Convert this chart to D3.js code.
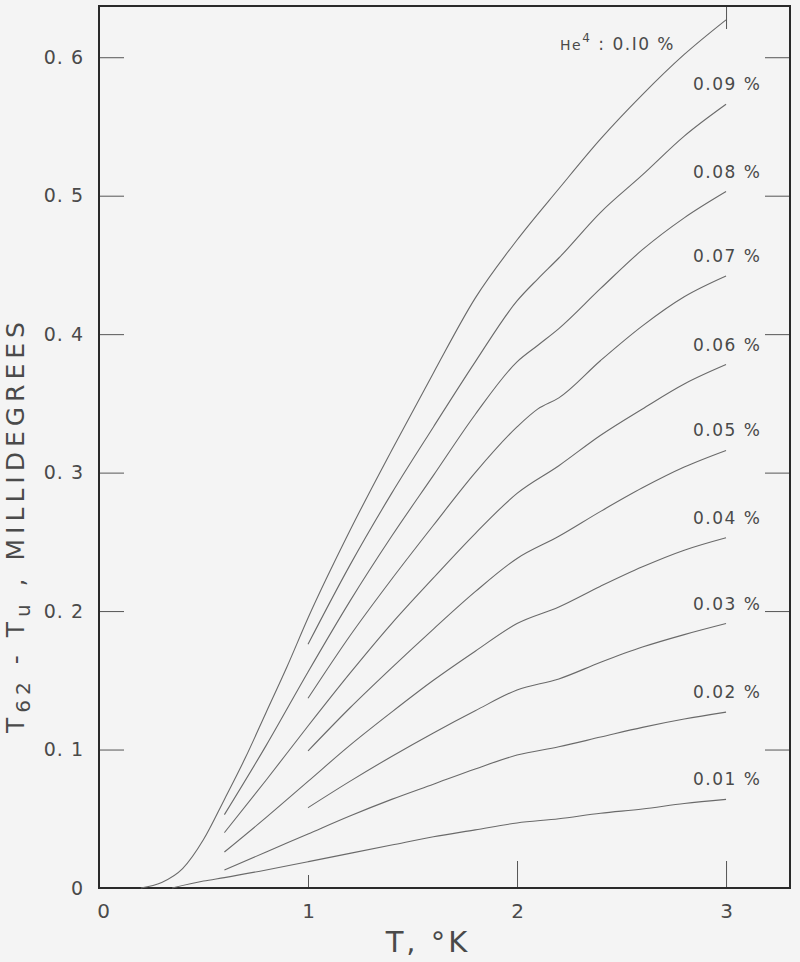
<!DOCTYPE html>
<html lang="en">
<head>
	<title>T62 - Tu vs T</title>
	<script src="https://d3js.org/d3.v7.min.js" charset="utf-8"></script>
	<style>
		body { margin: 0; background: #f4f4f4; }
		text { font-family: "DejaVu Sans", sans-serif; fill: #4a4a4a; }
	</style>
</head>
<body>

	<script>

	// He4 concentration curves (T in K, value in millidegrees)
	var labels = ["0.10 %", "0.09 %", "0.08 %", "0.07 %", "0.06 %", "0.05 %", "0.04 %", "0.03 %", "0.02 %", "0.01 %"]

	var c10T = [0.2, 0.3, 0.4, 0.5, 0.6, 0.7, 0.8, 0.9, 1.0, 1.2, 1.4, 1.6, 1.8, 2.0, 2.2, 2.4, 2.6, 2.8, 3.0]
	var c10V = [0, 0.004, 0.014, 0.035, 0.064, 0.094, 0.127, 0.160, 0.195, 0.258, 0.316, 0.372, 0.426, 0.468, 0.505, 0.541, 0.573, 0.602, 0.627]

	var c09T = [1.0, 1.2, 1.4, 1.6, 1.8, 2.0, 2.1, 2.2, 2.4, 2.6, 2.8, 3.0]
	var c09V = [0.176, 0.233, 0.285, 0.333, 0.380, 0.424, 0.440, 0.455, 0.488, 0.515, 0.543, 0.566]

	var c08T = [0.6, 0.8, 1.0, 1.2, 1.4, 1.6, 1.8, 2.0, 2.1, 2.2, 2.4, 2.6, 2.8, 3.0]
	var c08V = [0.053, 0.103, 0.156, 0.207, 0.254, 0.298, 0.342, 0.380, 0.392, 0.404, 0.433, 0.461, 0.484, 0.503]

	var c07T = [1.0, 1.2, 1.4, 1.6, 1.8, 2.0, 2.1, 2.2, 2.4, 2.6, 2.8, 3.0]
	var c07V = [0.137, 0.182, 0.223, 0.262, 0.300, 0.333, 0.346, 0.354, 0.381, 0.406, 0.427, 0.442]

	var c06T = [0.6, 0.8, 1.0, 1.2, 1.4, 1.6, 1.8, 2.0, 2.2, 2.4, 2.6, 2.8, 3.0]
	var c06V = [0.040, 0.078, 0.117, 0.155, 0.191, 0.224, 0.256, 0.285, 0.305, 0.327, 0.346, 0.364, 0.378]

	var c05T = [1.0, 1.2, 1.4, 1.6, 1.8, 2.0, 2.2, 2.4, 2.6, 2.8, 3.0]
	var c05V = [0.099, 0.130, 0.159, 0.187, 0.214, 0.238, 0.254, 0.272, 0.289, 0.304, 0.316]

	var c04T = [0.6, 0.8, 1.0, 1.2, 1.4, 1.6, 1.8, 2.0, 2.2, 2.4, 2.6, 2.8, 3.0]
	var c04V = [0.026, 0.051, 0.077, 0.103, 0.127, 0.150, 0.171, 0.191, 0.203, 0.218, 0.232, 0.244, 0.253]

	var c03T = [1.0, 1.2, 1.4, 1.6, 1.8, 2.0, 2.2, 2.4, 2.6, 2.8, 3.0]
	var c03V = [0.058, 0.077, 0.095, 0.112, 0.128, 0.143, 0.151, 0.163, 0.174, 0.183, 0.191]

	var c02T = [0.6, 0.8, 1.0, 1.2, 1.4, 1.6, 1.8, 2.0, 2.2, 2.4, 2.6, 2.8, 3.0]
	var c02V = [0.013, 0.026, 0.039, 0.052, 0.064, 0.075, 0.086, 0.096, 0.102, 0.109, 0.116, 0.122, 0.127]

	var c01T = [0.35, 0.5, 0.6, 0.8, 1.0, 1.2, 1.4, 1.6, 1.8, 2.0, 2.2, 2.4, 2.6, 2.8, 3.0]
	var c01V = [0, 0.005, 0.0075, 0.013, 0.019, 0.025, 0.031, 0.037, 0.042, 0.047, 0.050, 0.054, 0.057, 0.061, 0.064]

	var xTicks = [0, 1, 2, 3]
	var yTicks = [0, 0.1, 0.2, 0.3, 0.4, 0.5, 0.6]

	var curves = [[c10T, c10V], [c09T, c09V], [c08T, c08V], [c07T, c07V], [c06T, c06V],
	              [c05T, c05V], [c04T, c04V], [c03T, c03V], [c02T, c02V], [c01T, c01V]]

	var width = 800, height = 962
	var fLeft = 99, fRight = 790, fTop = 6, fBottom = 888

	var svg = d3.select("body").append("svg")
	            .attr("width", width)
	            .attr("height", height)

	svg.append("rect").attr("width", width).attr("height", height).attr("fill", "#f4f4f4")

	var x = d3.scaleLinear().domain([0, 3.306]).range([fLeft, fRight])
	var y = d3.scaleLinear().domain([0, 0.637]).range([fBottom, fTop])

	// left axis, ticks pointing inwards
	var gy = svg.append("g")
	            .attr("transform", "translate(" + fLeft + ",0)")
	            .call(d3.axisLeft(y).tickValues(yTicks).tickSize(-25).tickPadding(15)
	                    .tickFormat(function(d){ return d === 0 ? "0" : d3.format(".1f")(d).replace(".", ". ") }))
	gy.select(".domain").remove()
	gy.selectAll("text").style("font-size", "19px").style("font-family", "DejaVu Sans").attr("fill", "#4a4a4a").attr("letter-spacing", "1px")
	gy.selectAll("line").attr("stroke", "#555")
	gy.selectAll(".tick").filter(function(d){ return d === 0 }).select("line").remove()

	// right axis
	var gr = svg.append("g")
	            .attr("transform", "translate(" + fRight + ",0)")
	            .call(d3.axisRight(y).tickValues(yTicks.slice(1)).tickSize(-25).tickFormat(""))
	gr.select(".domain").remove()
	gr.selectAll("line").attr("stroke", "#555")

	// bottom axis
	var gx = svg.append("g")
	            .attr("transform", "translate(0," + fBottom + ")")
	            .call(d3.axisBottom(x).tickValues(xTicks).tickSize(-27).tickPadding(16).tickFormat(d3.format("d")))
	gx.select(".domain").remove()
	gx.selectAll("text").style("font-size", "20px").style("font-family", "DejaVu Sans").attr("fill", "#4a4a4a")
	gx.selectAll("line").attr("stroke", "#555")
	gx.selectAll(".tick").filter(function(d){ return d === 0 }).select("line").remove()
	gx.selectAll(".tick").filter(function(d){ return d === 0 }).select("text").attr("x", 4)
	gx.selectAll(".tick").filter(function(d){ return d === 1 }).select("line").attr("y2", -13)

	// top axis: only the tick at 3 shows
	var gt = svg.append("g")
	            .attr("transform", "translate(0," + fTop + ")")
	            .call(d3.axisTop(x).tickValues([3]).tickSize(-23).tickFormat(""))
	gt.select(".domain").remove()
	gt.selectAll("line").attr("stroke", "#555")

	// frame
	svg.append("rect")
	   .attr("x", fLeft).attr("y", fTop)
	   .attr("width", fRight - fLeft).attr("height", fBottom - fTop)
	   .attr("fill", "none").attr("stroke", "#2a2a2a").attr("stroke-width", 2)

	var line = d3.line()
	             .x(function(d){ return x(d[0]) })
	             .y(function(d){ return y(d[1]) })
	             .curve(d3.curveMonotoneX)

	svg.append("g")
	   .selectAll("path")
	   .data(curves)
	   .enter().append("path")
	   .attr("d", function(c){ return line(d3.zip(c[0], c[1])) })
	   .attr("fill", "none")
	   .attr("stroke", "#6a6a6a")
	   .attr("stroke-width", 1.1)

	// curve labels
	var lab = svg.append("g").style("font-size", "17px").attr("letter-spacing", "1.5px")
	curves.forEach(function(c, i){
		var tEnd = c[0][c[0].length - 1], vEnd = c[1][c[1].length - 1]
		if (i === 0) {
			var t = lab.append("text").attr("x", x(tEnd) - 51).attr("y", y(vEnd) + 30).attr("text-anchor", "end")
			t.append("tspan").style("font-size", "14px").text("He")
			t.append("tspan").attr("dy", -8).style("font-size", "12px").text("4")
			t.append("tspan").attr("dy", 8).text(" : " + labels[i].replace("0.10", "0.I0"))
		} else {
			lab.append("text").attr("x", x(tEnd) - 33).attr("y", y(vEnd) - 14).text(labels[i])
		}
	})

	// axis titles
	svg.append("text")
	   .attr("x", 428).attr("y", 952)
	   .attr("text-anchor", "middle")
	   .style("font-size", "29px")
	   .attr("letter-spacing", "3px")
	   .text("T, °K")

	var yt = svg.append("text")
	   .attr("transform", "translate(24,525) rotate(-90)")
	   .attr("text-anchor", "middle")
	   .style("font-size", "25px")
	   .attr("letter-spacing", "5px")
	yt.append("tspan").text("T")
	yt.append("tspan").attr("dy", 6).style("font-size", "20px").text("62")
	yt.append("tspan").attr("dy", -6).text(" - T")
	yt.append("tspan").attr("dy", 6).style("font-size", "20px").text("u")
	yt.append("tspan").attr("dy", -6).text(" ,  MILLIDEGREES")

	</script>
</body>
</html>
